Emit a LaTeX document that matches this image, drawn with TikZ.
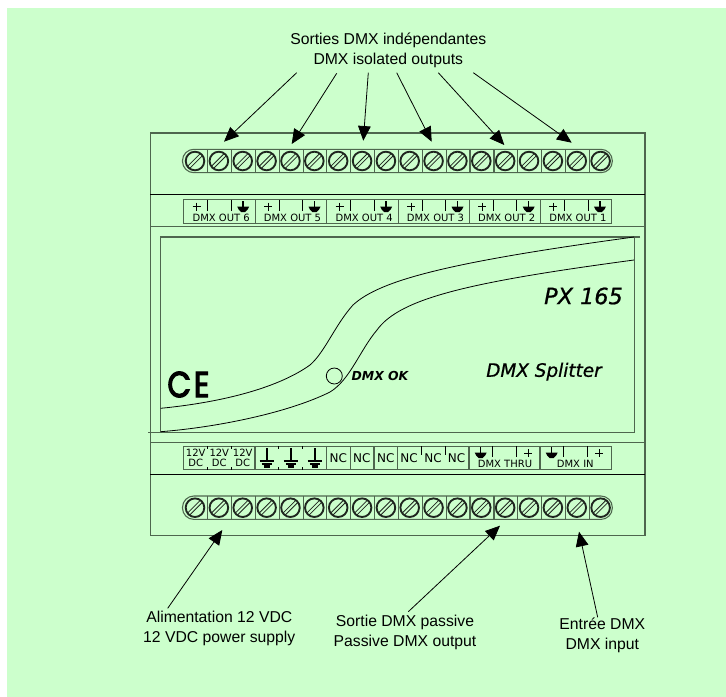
\documentclass[tikz,border=0pt]{standalone}
\usepackage{fontspec}
\setmainfont{Liberation Sans}
\newfontfamily\dvfont{DejaVu Sans}
\newfontfamily\brandfont[FakeBold=0.8]{DejaVu Sans}
\newfontfamily\cefont[FakeBold=3.5]{Poppins}
\usetikzlibrary{arrows.meta}
\definecolor{bggreen}{HTML}{CCFFCC}
\definecolor{boxgray}{HTML}{4E664E}
\tikzset{
  boxline/.style={draw=boxgray,line width=0.8pt},
  thinline/.style={draw=black,line width=0.6pt},
  screwline/.style={draw=black!85!bggreen,line width=0.6pt},
  callout/.style={draw=black,line width=0.6pt,-{Triangle[length=11pt,width=9.5pt]}},
  calltext/.style={font=\fontsize{11.8pt}{15pt}\selectfont,align=center,inner sep=0pt},
  tinytext/.style={font=\dvfont\fontsize{7.5pt}{7.5pt}\selectfont,align=center,inner sep=0pt},
  brandtext/.style={inner sep=0pt}
}
% three screws of a terminal row
\newcommand*{\BScrew}[2]{
  \draw[screwline,line width=1.4pt] (#1,#2) circle (9.3);
  \draw[screwline] (#1 - 5.3,#2 + 7.4) -- (#1 + 7.4,#2 - 5.3)
    (#1 - 7.4,#2 + 5.3) -- (#1 + 5.3,#2 - 7.4);}
\newcommand*{\BTriple}[2]{
  \BScrew{#1}{#2} \BScrew{#1 + 23.86}{#2} \BScrew{#1 + 47.72}{#2}
  \draw[boxline] (#1 + 12.7,#2 - 11.7) -- ++(0,23.4) (#1 + 36.5,#2 - 11.7) -- ++(0,23.4);}
\newcommand*{\BRow}[1]{
  \draw[boxline,rounded corners=8.5pt] (182.5,#1 - 11.7) rectangle (612.3,#1 + 11.7);
  \draw[boxline] (255.3,#1 - 11.7) -- ++(0,23.4) (326.9,#1 - 11.7) -- ++(0,23.4)
    (398.5,#1 - 11.7) -- ++(0,23.4) (470,#1 - 11.7) -- ++(0,23.4)
    (541.6,#1 - 11.7) -- ++(0,23.4);}
\newcommand*{\BGnd}[2]{
  \draw[thinline,line width=1.1pt] (#1,#2 - 5.5) -- (#1,#2);
  \fill (#1 - 6,#2) -- (#1 + 6,#2) -- (#1 + 4.5,#2 + 3) -- (#1 + 2,#2 + 5.5)
    -- (#1 - 2,#2 + 5.5) -- (#1 - 4.5,#2 + 3) -- cycle;}
\newcommand*{\BEarth}[1]{
  \draw[thinline,line width=1.2pt] (#1,448) -- (#1,461);
  \draw[thinline,line width=1.3pt] (#1 - 7,461) -- (#1 + 7,461);
  \draw[thinline,line width=1.6pt] (#1 - 5,464) -- (#1 + 5,464);
  \draw[thinline,line width=1.6pt] (#1 - 3,466.5) -- (#1 + 3,466.5);}
\newcommand*{\BPlus}[2]{
  \draw[thinline] (#1 - 4,#2) -- (#1 + 4,#2) (#1,#2 - 4) -- (#1,#2 + 4);}
% one DMX OUT section, starts at #1
\newcommand*{\BOut}[2]{
  \draw[boxline] (#1 + 71.4,199.7) -- (#1 + 71.4,223.3);
  \draw[thinline] (#1 + 24,199.7) -- (#1 + 24,211) (#1 + 47.5,199.7) -- (#1 + 47.5,211);
  \BPlus{#1 + 13}{206.5} \BGnd{#1 + 59.5}{206.5}
  \draw (#1 + 37.5,218) node[tinytext] (out#2) {DMX OUT #2};}
\newcommand*{\BDc}[2]{
  \draw (#1,458.3) node[tinytext] (dc#2) {12V\\DC};}
\newcommand*{\BNc}[2]{
  \draw (#1,458) node[tinytext,font=\dvfont\fontsize{9pt}{9pt}\selectfont] (nc#2) {NC};}

\begin{document}
\begin{tikzpicture}[x=0.75pt,y=-0.75pt]
    \useasboundingbox (0,0) rectangle (726,697);
    \fill[bggreen] (7,8) rectangle (726,697);
    % housing
    \draw[boxline] (150.3,133) rectangle (645,535.3);
    \draw[thinline] (150.3,194.3) -- (645,194.3);
    \draw[boxline] (150.3,226.7) -- (645,226.7);
    \draw[boxline] (150.3,442.3) -- (645,442.3);
    \draw[thinline] (150.3,474.3) -- (645,474.3);
    % front panel
    \draw[boxline] (640,237) -- (160.7,237) -- (160.7,432.3);
    \draw[boxline] (148,432.3) -- (634.3,432.3) -- (634.3,237);
    \draw[thinline] (160.7,408.3) .. controls (215,403) and (275,390) .. (310,365)
      .. controls (325,352) and (335,325) .. (353,305)
      .. controls (380,280) and (450,262) .. (634,237);
    \draw[thinline] (160.7,431.7) .. controls (220,427) and (290,412) .. (330,392)
      .. controls (350,380) and (360,350) .. (377,330)
      .. controls (400,298) and (470,282) .. (634,260);
    \draw[thinline] (334.3,376) circle (8);
    \draw (380,376) node[brandtext,font=\dvfont\bfseries\itshape\fontsize{9.3pt}{10pt}\selectfont] (ledtext) {DMX OK};
    \draw (583.5,296) node[brandtext,font=\brandfont\itshape\fontsize{16.8pt}{18pt}\selectfont] (model) {PX 165};
    \draw (544,371.7) node[brandtext,font=\brandfont\itshape\fontsize{13.8pt}{16pt}\selectfont] (device) {DMX Splitter};
    \draw (188.5,384.5) node[inner sep=0pt,xscale=0.85,font=\cefont\fontsize{27pt}{28pt}\selectfont] (ce) {C\kern2.5pt E};
    % screw rows
    \BRow{161}
    \BTriple{195}{161} \BTriple{266.6}{161} \BTriple{338.2}{161}
    \BTriple{409.7}{161} \BTriple{481.3}{161} \BTriple{552.9}{161}
    \BRow{507.7}
    \BTriple{195}{507.7} \BTriple{266.6}{507.7} \BTriple{338.2}{507.7}
    \BTriple{409.7}{507.7} \BTriple{481.3}{507.7} \BTriple{552.9}{507.7}
    % upper labels
    \draw[boxline] (183.7,199.7) rectangle (611.7,223.3);
    \BOut{183.7}{6} \BOut{255}{5} \BOut{326.7}{4}
    \BOut{398}{3} \BOut{469.2}{2} \BOut{540.4}{1}
    % lower labels
    \draw[boxline] (183.7,446.3) rectangle (611.7,469.7);
    \BDc{195.7}{1} \BDc{219.3}{2} \BDc{242.7}{3}
    \draw[thinline] (207.7,446.3) -- ++(0,3) (207.7,467) -- ++(0,2.7)
      (231.3,446.3) -- ++(0,3) (231.3,467) -- ++(0,2.7)
      (278.8,446.3) -- ++(0,3) (278.8,467) -- ++(0,2.7)
      (302.7,446.3) -- ++(0,3) (302.7,467) -- ++(0,2.7);
    \BEarth{266.7} \BEarth{290.7} \BEarth{314.7}
    \draw[boxline] (255,446.3) -- ++(0,23.4) (326.7,446.3) -- ++(0,23.4)
      (350.2,446.3) -- ++(0,23.4) (374,446.3) -- ++(0,23.4)
      (397.5,446.3) -- ++(0,23.4) (469,446.3) -- ++(0,23.4) (540,446.3) -- ++(0,23.4);
    \BNc{338.3}{1} \BNc{361.9}{2} \BNc{385.7}{3}
    \BNc{409}{4} \BNc{433}{5} \BNc{456.5}{6}
    \draw[thinline] (421,446.3) -- ++(0,9) (445,446.3) -- ++(0,9)
      (492.7,446.3) -- ++(0,11) (516,446.3) -- ++(0,11)
      (563.5,446.3) -- ++(0,11) (587.3,446.3) -- ++(0,11);
    \BGnd{480.7}{452.5} \BPlus{528.3}{453.3}
    \BGnd{551.7}{452.5} \BPlus{599.3}{453.3}
    \draw (505,464.3) node[tinytext] (thru) {DMX THRU};
    \draw (575.3,464.3) node[tinytext] (in) {DMX IN};
    % callouts
    \draw (388.3,50) node[calltext] (outputs) {Sorties DMX indépendantes\\DMX isolated outputs};
    \draw (219.3,628) node[calltext] (power) {Alimentation 12 VDC\\12 VDC power supply};
    \draw (405,632.4) node[calltext] (passive) {Sortie DMX passive\\Passive DMX output};
    \draw (602.3,635) node[calltext] (input) {Entrée DMX\\DMX input};
    \coordinate (t1) at (296.7,72.7); \coordinate (h1) at (224,141.7);
    \coordinate (t2) at (336.7,73.3); \coordinate (h2) at (291.7,144);
    \coordinate (t3) at (368.3,72.7); \coordinate (h3) at (363.3,140.7);
    \coordinate (t4) at (396.7,72.7); \coordinate (h4) at (431.7,141.7);
    \coordinate (t5) at (438.3,72.7); \coordinate (h5) at (504.3,145);
    \coordinate (t6) at (473.3,72.7); \coordinate (h6) at (571.7,142.7);
    \draw[callout] (t1) -- (h1);
    \draw[callout] (t2) -- (h2);
    \draw[callout] (t3) -- (h3);
    \draw[callout] (t4) -- (h4);
    \draw[callout] (t5) -- (h5);
    \draw[callout] (t6) -- (h6);
    \coordinate (t7) at (167.7,608.3); \coordinate (h7) at (222.3,530);
    \coordinate (t8) at (408.3,611.7); \coordinate (h8) at (500,525.7);
    \coordinate (t9) at (597.7,617.3); \coordinate (h9) at (579,531.7);
    \draw[callout] (t7) -- (h7);
    \draw[callout] (t8) -- (h8);
    \draw[callout] (t9) -- (h9);
  \end{tikzpicture}
\end{document}
